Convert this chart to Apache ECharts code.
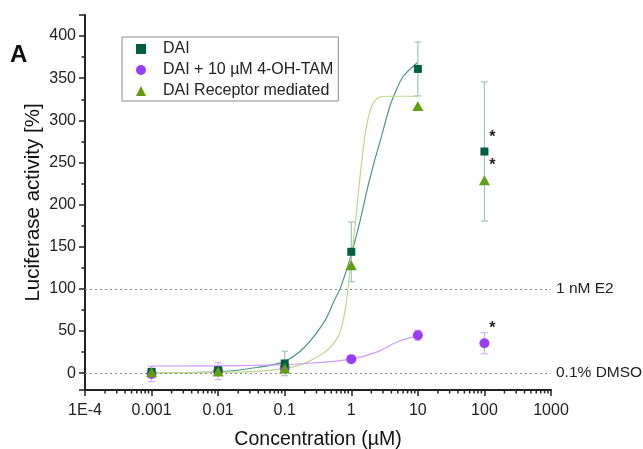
<!DOCTYPE html>
<html lang="en">
<head>
<meta charset="UTF-8">
<title>DAI luciferase</title>
<script src="https://cdn.jsdelivr.net/npm/echarts@6/dist/echarts.min.js"></script>
<style>
  html, body { margin: 0; padding: 0; background: #fff; }
  #box { width: 643px; height: 449px; }
</style>
</head>
<body>
<div id="box"></div>
<script>
// measured points
var conc   = [0.001, 0.01, 0.1, 1, 10, 100];
var daiVal = [1.5, 3.5, 11.5, 144, 361, 263];
var daiErr = [3, 3, 14.5, 35.5, 32, 82.5];
var tamVal = [-1, 2.3, 6, 16.6, 45, 35.5];
var tamErr = [9, 10, 4, 2, 6, 12.5];
var recVal = [1, 2, 5.5, 128, 317, 229];
var starred = [false, false, false, false, false, true];

// fitted curves
var daiFitX = [0.001, 0.01, 0.04, 0.1, 0.2, 0.4, 0.54, 0.7, 1, 1.35, 1.72, 2.2, 2.73, 3.64, 4.3, 6, 10];
var daiFitY = [0.5, 1.5, 7, 14, 31, 62, 84, 103, 141, 180, 217, 250, 276, 312, 328, 352, 369];
var recFitX = [0.001, 0.01, 0.043, 0.135, 0.24, 0.43, 0.65, 0.81, 0.97, 1.15, 1.37, 1.62, 1.93, 2.43, 3.6, 10];
var recFitY = [0.5, 1, 2.4, 7.5, 14.6, 27, 45, 75, 126, 178, 237, 284, 312, 326, 328.6, 328.6];
var tamFitX = [0.001, 0.01, 0.1, 0.3, 1, 2.4, 4.9, 10];
var tamFitY = [8.5, 8.7, 10, 12.5, 16.6, 25, 37, 44.5];

var refLines = [[100, '1 nM E2'], [0, '0.1% DMSO']];
var xMin = 0.0001, xMax = 1000;
var yMin = -20, yMax = 425;

var FONT = "'Liberation Sans', Arial, sans-serif";
var cDai = '#005f3f', cTam = '#9b3cfa', cRec = '#5f9f12';

function zip(a, b) {
    return a.map(function (v, i) { return [v, b[i]]; });
}
function errData(vals, errs) {
    return conc.map(function (c, i) { return [c, vals[i] - errs[i], vals[i] + errs[i]]; });
}
function pointData(vals) {
    return conc.map(function (c, i) {
        var item = { value: [c, vals[i]] };
        if (starred[i]) item.label = { show: true };
        return item;
    });
}

// minor ticks of the log axis: 2..9 in each decade
var minorTicks = [];
for (var d = xMin; d < xMax; d *= 10) {
    for (var m = 2; m <= 9; m++) minorTicks.push([d * m]);
}

function renderErr(params, api) {
    var x = api.value(0);
    var lo = api.coord([x, api.value(1)]);
    var hi = api.coord([x, api.value(2)]);
    var w = 3.5;
    var st = { stroke: api.visual('color'), lineWidth: 1.2 };
    return {
        type: 'group',
        children: [
            { type: 'line', shape: { x1: lo[0], y1: lo[1], x2: hi[0], y2: hi[1] }, style: st },
            { type: 'line', shape: { x1: lo[0] - w, y1: lo[1], x2: lo[0] + w, y2: lo[1] }, style: st },
            { type: 'line', shape: { x1: hi[0] - w, y1: hi[1], x2: hi[0] + w, y2: hi[1] }, style: st }
        ]
    };
}

function renderMinor(params, api) {
    var p = api.coord([api.value(0), yMin]);
    return {
        type: 'line',
        shape: { x1: p[0], y1: p[1], x2: p[0], y2: p[1] + 3.5 },
        style: { stroke: '#222', lineWidth: 1.5 }
    };
}

var starLabel = {
    show: false, formatter: '*', position: 'top', offset: [8, 3],
    fontSize: 16, fontWeight: 'bold', color: '#222', fontFamily: FONT
};

var chart = echarts.init(document.getElementById('box'));
var option = {
    animation: false,
    textStyle: { fontFamily: FONT },
    title: {
        text: 'A', left: 10, top: 43, padding: 0,
        textStyle: { fontSize: 24, fontWeight: 'bold', color: '#111', fontFamily: FONT }
    },
    legend: {
        orient: 'vertical',
        left: 122, top: 37,
        padding: [4, 5, 2, 14],
        itemGap: 5,
        itemWidth: 10, itemHeight: 10,
        borderColor: '#8a8a8a', borderWidth: 1,
        textStyle: { fontSize: 16, color: '#222', fontFamily: FONT, padding: [0, 0, 0, 12] },
        data: [
            { name: 'DAI', icon: 'rect' },
            { name: 'DAI + 10 µM 4-OH-TAM', icon: 'circle' },
            { name: 'DAI Receptor mediated', icon: 'triangle' }
        ]
    },
    grid: { left: 85, right: 92, top: 15, bottom: 59, outerBoundsMode: 'none', containLabel: false },
    xAxis: {
        type: 'log', logBase: 10, min: xMin, max: xMax, splitNumber: 7,
        name: 'Concentration (µM)', nameLocation: 'middle', nameGap: 40, nameMoveOverlap: false,
        nameTextStyle: { fontSize: 19.5, color: '#111', fontFamily: FONT },
        axisLine: { onZero: false, lineStyle: { color: '#222', width: 2 } },
        axisTick: { length: 6, lineStyle: { color: '#222', width: 1.5 } },
        minorTick: { show: false },
        splitLine: { show: false },
        axisLabel: {
            fontSize: 16, color: '#222', margin: 13,
            formatter: function (v) {
                if (Math.abs(v - 0.0001) < 1e-9) return '1E-4';
                return String(+v.toPrecision(6));
            }
        }
    },
    yAxis: {
        type: 'value', min: yMin, max: yMax, splitNumber: 9,
        name: 'Luciferase activity [%]', nameLocation: 'middle', nameGap: 41, nameMoveOverlap: false,
        nameTextStyle: { fontSize: 20.5, color: '#111', fontFamily: FONT },
        axisLine: { onZero: false, lineStyle: { color: '#222', width: 2 } },
        axisTick: { length: 6, lineStyle: { color: '#222', width: 1.5 } },
        minorTick: { show: true, splitNumber: 2, length: 3.5, lineStyle: { color: '#222', width: 1.5 } },
        splitLine: { show: false },
        axisLabel: { fontSize: 16, color: '#222', margin: 9, showMinLabel: false, showMaxLabel: false }
    },
    series: [
        {
            type: 'custom', name: 'minor', renderItem: renderMinor, data: minorTicks,
            clip: false, silent: true, z: 1
        },
        {
            type: 'line', name: 'daiFit', data: zip(daiFitX, daiFitY), smooth: 0.3,
            showSymbol: false, lineStyle: { color: '#4f968a', width: 1.2 }, z: 2, silent: true,
            markLine: {
                silent: true, symbol: 'none', animation: false,
                lineStyle: { type: [2, 3], color: '#8c8c8c', width: 1.2 },
                label: { position: 'end', formatter: '{b}', fontSize: 15.5, color: '#222', distance: 5, fontFamily: FONT },
                data: refLines.map(function (r) { return { yAxis: r[0], name: r[1] }; })
            }
        },
        {
            type: 'line', name: 'recFit', data: zip(recFitX, recFitY), smooth: 0.3,
            showSymbol: false, lineStyle: { color: '#bcd98a', width: 1.2 }, z: 2, silent: true
        },
        {
            type: 'line', name: 'tamFit', data: zip(tamFitX, tamFitY), smooth: 0.4,
            showSymbol: false, lineStyle: { color: '#cf9bff', width: 1.2 }, z: 2, silent: true
        },
        {
            type: 'custom', name: 'daiErr', renderItem: renderErr, data: errData(daiVal, daiErr),
            itemStyle: { color: '#9fc6bc' }, z: 3, silent: true
        },
        {
            type: 'custom', name: 'tamErr', renderItem: renderErr, data: errData(tamVal, tamErr),
            itemStyle: { color: '#d6aeff' }, z: 3, silent: true
        },
        {
            type: 'scatter', name: 'DAI + 10 µM 4-OH-TAM', symbol: 'circle', symbolSize: 10,
            itemStyle: { color: cTam, opacity: 1 }, data: pointData(tamVal), label: starLabel, z: 4
        },
        {
            type: 'scatter', name: 'DAI', symbol: 'rect', symbolSize: 8,
            itemStyle: { color: cDai, opacity: 1 }, data: pointData(daiVal), label: starLabel, z: 5
        },
        {
            type: 'scatter', name: 'DAI Receptor mediated', symbol: 'triangle', symbolSize: [11, 10],
            itemStyle: { color: cRec, opacity: 1 }, data: pointData(recVal), label: starLabel, z: 6
        }
    ]
};
chart.setOption(option);
</script>
</body>
</html>
